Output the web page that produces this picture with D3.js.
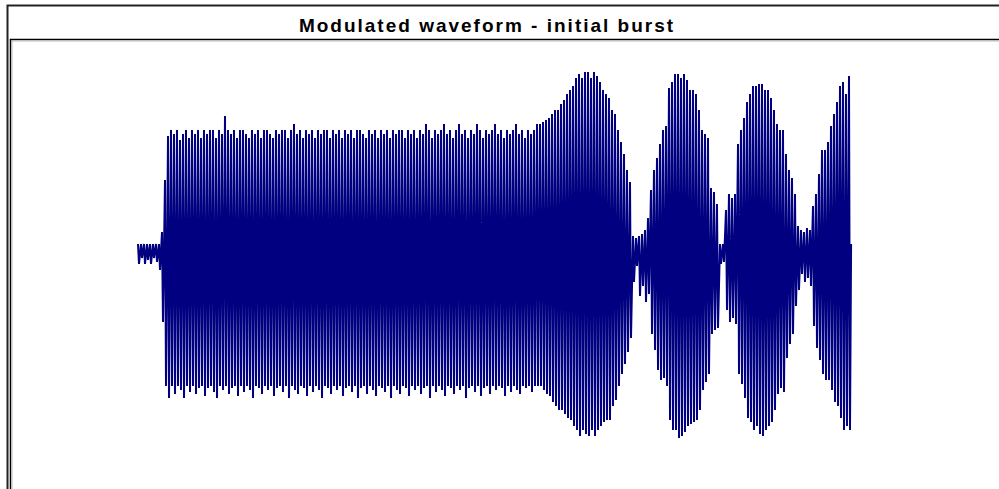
<!DOCTYPE html>
<html>
<head>
<meta charset="utf-8">
<script src="https://cdn.jsdelivr.net/npm/d3@7"></script>
<style>
  html, body { margin: 0; padding: 0; background: #fff; overflow: hidden; }
</style>
</head>
<body>
<div id="chart"></div>
<script>
// Chart title
const chartTitle = "Modulated waveform - initial burst";

// Positive peak of each carrier cycle (mV)
const upperPeaks = [
  5, 5, 5, 5, 5, 5, 5, 5,                       // quiet lead-in
  11, 37, 59,                                   // burst onset
  62, 60, 62, 57, 60, 62, 58, 62, 60, 62,
  58, 62, 60, 62, 62, 58, 62, 60, 69, 62,
  60, 62, 58, 62, 62, 60, 58, 62, 60, 62,
  58, 62, 62, 60, 58, 62, 60, 62, 62, 58,
  62, 65, 60, 62, 58, 62, 60, 62, 58, 62,
  60, 62, 62, 58, 62, 60, 62, 58, 62, 60,
  62, 58, 62, 62, 60, 58, 62, 60, 62, 58,
  62, 60, 62, 58, 62, 60, 62, 62, 58, 62,
  60, 62, 58, 62, 60, 65, 62, 58, 62, 60,
  62, 65, 60, 62, 58, 62, 65, 60, 62, 58,
  62, 60, 65, 62, 58, 62, 60, 62, 65, 60,
  62, 58, 62, 60, 62, 65, 60, 62, 58, 62, 60, 62, 65,
  65, 66, 67, 68, 70, 72, 72, 75, 77, 80,      // first swell
  82, 84, 88, 90, 88, 91, 91, 88, 91, 89,
  86, 82, 80, 78, 72, 70, 62, 56, 50, 42, 36,
  9, 8, 9, 10, 12, 18,                          // first null
  32, 42, 48, 55, 62, 64, 83, 86, 90, 90,      // second swell
  88, 90, 87, 82, 82, 80, 72, 62, 60, 58,
  33, 31, 25, 5, 5,                             // second null
  22, 30, 28, 30, 55, 62, 68, 76, 80, 84,      // third swell
  84, 85, 85, 82, 82, 78, 72, 65, 62, 62,
  50, 42, 38, 30, 14, 12, 11, 13, 12,          // third null
  24, 30, 40, 52, 52, 56, 64, 70, 76, 84, 86, 80, 89  // final rise
];

// Negative peak of each carrier cycle (mV)
const lowerPeaks = [
  -5, -2, -5, -3, -5, -2, -4, -8,
  -34, -66, -72,
  -66, -70, -66, -68, -72, -66, -69, -66, -70, -67,
  -66, -71, -67, -66, -69, -72, -66, -68, -66, -70,
  -67, -66, -71, -66, -69, -66, -68, -72, -66, -67,
  -70, -66, -68, -66, -71, -67, -66, -69, -66, -72,
  -66, -68, -70, -66, -67, -71, -66, -69, -66, -68,
  -72, -66, -67, -70, -66, -68, -66, -71, -67, -66,
  -69, -66, -72, -67, -66, -70, -66, -68, -71, -66,
  -67, -69, -66, -72, -66, -68, -70, -66, -67, -71,
  -66, -68, -66, -70, -67, -66, -72, -66, -69, -66,
  -68, -71, -66, -67, -70, -66, -68, -66, -72, -67,
  -66, -69, -66, -71, -67, -66, -70, -66, -68, -66,
  -67, -71, -66, -69, -66, -68, -70, -66, -67, -66, -69, -66, -66,
  -66, -68, -70, -71, -74, -76, -78, -78, -80, -82,
  -83, -86, -88, -91, -88, -90, -91, -88, -91, -88,
  -86, -84, -83, -83, -76, -73, -66, -60, -55, -49, -42,
  -14, -6, -21, -16, -24, -20,
  -40, -48, -58, -63, -62, -66, -83, -88, -88, -92,
  -91, -89, -86, -85, -84, -83, -78, -68, -64, -60,
  -40, -38, -37, -5, -4,
  -28, -34, -32, -35, -60, -65, -72, -82, -84, -88,
  -86, -90, -91, -88, -86, -84, -78, -70, -67, -69,
  -52, -45, -40, -26, -18, -10, -14, -12, -16,
  -36, -47, -53, -60, -63, -63, -68, -74, -76, -82, -88, -86, -88
];

// Level the trace settles on after the last cycle (mV)
const endLevel = 5;

const width = 999;
const height = 489;
const nCycles = Math.min(upperPeaks.length, lowerPeaks.length);

const svg = d3.select('#chart').append('svg')
    .attr('width', width)
    .attr('height', height)
    .style('display', 'block');

// outer chart border (runs off the right and bottom edge)
svg.append('path')
    .attr('d', `M7.5,${height + 2}V5.5H${width + 2}`)
    .attr('fill', 'none')
    .attr('stroke', '#222')
    .attr('stroke-width', 2);

// plot frame
svg.append('path')
    .attr('d', `M10.5,${height + 2}V39.5H${width + 2}`)
    .attr('fill', 'none')
    .attr('stroke', '#000')
    .attr('stroke-width', 1.5);
svg.append('path')
    .attr('d', `M12,${height + 2}V41H${width + 2}`)
    .attr('fill', 'none')
    .attr('stroke', '#bbb')
    .attr('stroke-width', 1);

svg.append('text')
    .attr('x', 487)
    .attr('y', 32)
    .attr('text-anchor', 'middle')
    .style('font-family', '"Liberation Sans", Arial, sans-serif')
    .style('font-weight', 'bold')
    .style('font-size', '19px')
    .style('letter-spacing', '2px')
    .attr('fill', '#000')
    .text(chartTitle);

// x: carrier cycle number, y: amplitude in mV
const x = d3.scaleLinear().domain([0, nCycles]).range([138, 852]);
const y = d3.scaleLinear().domain([-100, 100]).range([454, 54]);

// each cycle: sharp fall from the positive peak, slower rise to the next one
const points = [];
for (let i = 0; i < nCycles; i++) {
    points.push({ t: i, v: upperPeaks[i] });
    points.push({ t: i + 1 / 3, v: lowerPeaks[i] });
}
points.push({ t: nCycles - 0.3, v: endLevel });

const line = d3.line()
    .x(d => x(d.t))
    .y(d => y(d.v));

svg.append('path')
    .datum(points)
    .attr('d', line)
    .attr('fill', 'none')
    .attr('stroke', '#000080')
    .attr('stroke-width', 2)
    .attr('stroke-linejoin', 'bevel');
</script>
</body>
</html>
